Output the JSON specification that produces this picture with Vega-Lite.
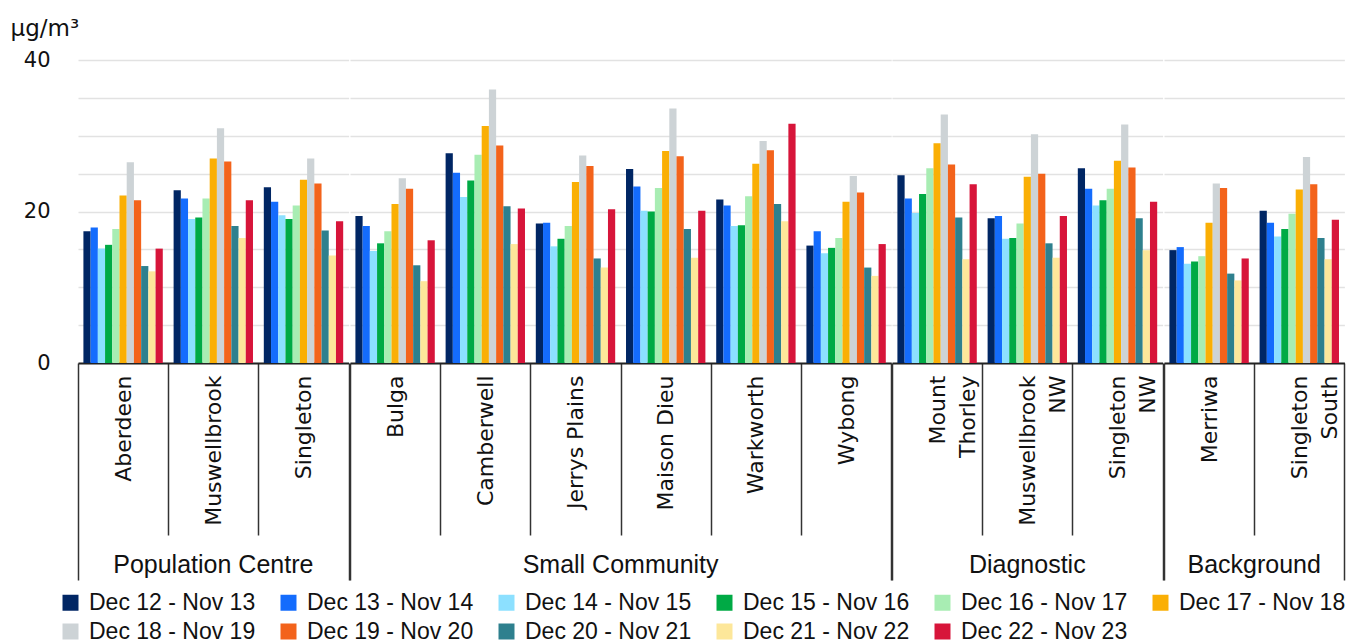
{
  "$schema": "https://vega.github.io/schema/vega-lite/v6.json",
  "padding": {"left": 10, "top": 17, "right": 5, "bottom": 0},
  "background": "white",
  "data": {"values": [
    {"group": "Population Centre", "station": "Aberdeen", "period": "Dec 12 - Nov 13", "value": 17.4},
    {"group": "Population Centre", "station": "Aberdeen", "period": "Dec 13 - Nov 14", "value": 17.9},
    {"group": "Population Centre", "station": "Aberdeen", "period": "Dec 14 - Nov 15", "value": 15.1},
    {"group": "Population Centre", "station": "Aberdeen", "period": "Dec 15 - Nov 16", "value": 15.6},
    {"group": "Population Centre", "station": "Aberdeen", "period": "Dec 16 - Nov 17", "value": 17.7},
    {"group": "Population Centre", "station": "Aberdeen", "period": "Dec 17 - Nov 18", "value": 22.1},
    {"group": "Population Centre", "station": "Aberdeen", "period": "Dec 18 - Nov 19", "value": 26.5},
    {"group": "Population Centre", "station": "Aberdeen", "period": "Dec 19 - Nov 20", "value": 21.5},
    {"group": "Population Centre", "station": "Aberdeen", "period": "Dec 20 - Nov 21", "value": 12.8},
    {"group": "Population Centre", "station": "Aberdeen", "period": "Dec 21 - Nov 22", "value": 12.1},
    {"group": "Population Centre", "station": "Aberdeen", "period": "Dec 22 - Nov 23", "value": 15.1},
    {"group": "Population Centre", "station": "Muswellbrook", "period": "Dec 12 - Nov 13", "value": 22.8},
    {"group": "Population Centre", "station": "Muswellbrook", "period": "Dec 13 - Nov 14", "value": 21.7},
    {"group": "Population Centre", "station": "Muswellbrook", "period": "Dec 14 - Nov 15", "value": 19.0},
    {"group": "Population Centre", "station": "Muswellbrook", "period": "Dec 15 - Nov 16", "value": 19.2},
    {"group": "Population Centre", "station": "Muswellbrook", "period": "Dec 16 - Nov 17", "value": 21.7},
    {"group": "Population Centre", "station": "Muswellbrook", "period": "Dec 17 - Nov 18", "value": 27.0},
    {"group": "Population Centre", "station": "Muswellbrook", "period": "Dec 18 - Nov 19", "value": 31.0},
    {"group": "Population Centre", "station": "Muswellbrook", "period": "Dec 19 - Nov 20", "value": 26.6},
    {"group": "Population Centre", "station": "Muswellbrook", "period": "Dec 20 - Nov 21", "value": 18.1},
    {"group": "Population Centre", "station": "Muswellbrook", "period": "Dec 21 - Nov 22", "value": 16.5},
    {"group": "Population Centre", "station": "Muswellbrook", "period": "Dec 22 - Nov 23", "value": 21.5},
    {"group": "Population Centre", "station": "Singleton", "period": "Dec 12 - Nov 13", "value": 23.2},
    {"group": "Population Centre", "station": "Singleton", "period": "Dec 13 - Nov 14", "value": 21.3},
    {"group": "Population Centre", "station": "Singleton", "period": "Dec 14 - Nov 15", "value": 19.5},
    {"group": "Population Centre", "station": "Singleton", "period": "Dec 15 - Nov 16", "value": 19.0},
    {"group": "Population Centre", "station": "Singleton", "period": "Dec 16 - Nov 17", "value": 20.8},
    {"group": "Population Centre", "station": "Singleton", "period": "Dec 17 - Nov 18", "value": 24.2},
    {"group": "Population Centre", "station": "Singleton", "period": "Dec 18 - Nov 19", "value": 27.0},
    {"group": "Population Centre", "station": "Singleton", "period": "Dec 19 - Nov 20", "value": 23.7},
    {"group": "Population Centre", "station": "Singleton", "period": "Dec 20 - Nov 21", "value": 17.5},
    {"group": "Population Centre", "station": "Singleton", "period": "Dec 21 - Nov 22", "value": 14.2},
    {"group": "Population Centre", "station": "Singleton", "period": "Dec 22 - Nov 23", "value": 18.7},
    {"group": "Small Community", "station": "Bulga", "period": "Dec 12 - Nov 13", "value": 19.4},
    {"group": "Small Community", "station": "Bulga", "period": "Dec 13 - Nov 14", "value": 18.1},
    {"group": "Small Community", "station": "Bulga", "period": "Dec 14 - Nov 15", "value": 14.8},
    {"group": "Small Community", "station": "Bulga", "period": "Dec 15 - Nov 16", "value": 15.8},
    {"group": "Small Community", "station": "Bulga", "period": "Dec 16 - Nov 17", "value": 17.4},
    {"group": "Small Community", "station": "Bulga", "period": "Dec 17 - Nov 18", "value": 21.0},
    {"group": "Small Community", "station": "Bulga", "period": "Dec 18 - Nov 19", "value": 24.4},
    {"group": "Small Community", "station": "Bulga", "period": "Dec 19 - Nov 20", "value": 23.0},
    {"group": "Small Community", "station": "Bulga", "period": "Dec 20 - Nov 21", "value": 12.9},
    {"group": "Small Community", "station": "Bulga", "period": "Dec 21 - Nov 22", "value": 10.8},
    {"group": "Small Community", "station": "Bulga", "period": "Dec 22 - Nov 23", "value": 16.2},
    {"group": "Small Community", "station": "Camberwell", "period": "Dec 12 - Nov 13", "value": 27.7},
    {"group": "Small Community", "station": "Camberwell", "period": "Dec 13 - Nov 14", "value": 25.1},
    {"group": "Small Community", "station": "Camberwell", "period": "Dec 14 - Nov 15", "value": 21.9},
    {"group": "Small Community", "station": "Camberwell", "period": "Dec 15 - Nov 16", "value": 24.1},
    {"group": "Small Community", "station": "Camberwell", "period": "Dec 16 - Nov 17", "value": 27.5},
    {"group": "Small Community", "station": "Camberwell", "period": "Dec 17 - Nov 18", "value": 31.3},
    {"group": "Small Community", "station": "Camberwell", "period": "Dec 18 - Nov 19", "value": 36.1},
    {"group": "Small Community", "station": "Camberwell", "period": "Dec 19 - Nov 20", "value": 28.7},
    {"group": "Small Community", "station": "Camberwell", "period": "Dec 20 - Nov 21", "value": 20.7},
    {"group": "Small Community", "station": "Camberwell", "period": "Dec 21 - Nov 22", "value": 15.7},
    {"group": "Small Community", "station": "Camberwell", "period": "Dec 22 - Nov 23", "value": 20.4},
    {"group": "Small Community", "station": "Jerrys Plains", "period": "Dec 12 - Nov 13", "value": 18.4},
    {"group": "Small Community", "station": "Jerrys Plains", "period": "Dec 13 - Nov 14", "value": 18.5},
    {"group": "Small Community", "station": "Jerrys Plains", "period": "Dec 14 - Nov 15", "value": 15.4},
    {"group": "Small Community", "station": "Jerrys Plains", "period": "Dec 15 - Nov 16", "value": 16.4},
    {"group": "Small Community", "station": "Jerrys Plains", "period": "Dec 16 - Nov 17", "value": 18.1},
    {"group": "Small Community", "station": "Jerrys Plains", "period": "Dec 17 - Nov 18", "value": 23.9},
    {"group": "Small Community", "station": "Jerrys Plains", "period": "Dec 18 - Nov 19", "value": 27.4},
    {"group": "Small Community", "station": "Jerrys Plains", "period": "Dec 19 - Nov 20", "value": 26.0},
    {"group": "Small Community", "station": "Jerrys Plains", "period": "Dec 20 - Nov 21", "value": 13.8},
    {"group": "Small Community", "station": "Jerrys Plains", "period": "Dec 21 - Nov 22", "value": 12.6},
    {"group": "Small Community", "station": "Jerrys Plains", "period": "Dec 22 - Nov 23", "value": 20.3},
    {"group": "Small Community", "station": "Maison Dieu", "period": "Dec 12 - Nov 13", "value": 25.6},
    {"group": "Small Community", "station": "Maison Dieu", "period": "Dec 13 - Nov 14", "value": 23.3},
    {"group": "Small Community", "station": "Maison Dieu", "period": "Dec 14 - Nov 15", "value": 20.1},
    {"group": "Small Community", "station": "Maison Dieu", "period": "Dec 15 - Nov 16", "value": 20.0},
    {"group": "Small Community", "station": "Maison Dieu", "period": "Dec 16 - Nov 17", "value": 23.1},
    {"group": "Small Community", "station": "Maison Dieu", "period": "Dec 17 - Nov 18", "value": 28.0},
    {"group": "Small Community", "station": "Maison Dieu", "period": "Dec 18 - Nov 19", "value": 33.6},
    {"group": "Small Community", "station": "Maison Dieu", "period": "Dec 19 - Nov 20", "value": 27.3},
    {"group": "Small Community", "station": "Maison Dieu", "period": "Dec 20 - Nov 21", "value": 17.7},
    {"group": "Small Community", "station": "Maison Dieu", "period": "Dec 21 - Nov 22", "value": 13.9},
    {"group": "Small Community", "station": "Maison Dieu", "period": "Dec 22 - Nov 23", "value": 20.1},
    {"group": "Small Community", "station": "Warkworth", "period": "Dec 12 - Nov 13", "value": 21.6},
    {"group": "Small Community", "station": "Warkworth", "period": "Dec 13 - Nov 14", "value": 20.8},
    {"group": "Small Community", "station": "Warkworth", "period": "Dec 14 - Nov 15", "value": 18.1},
    {"group": "Small Community", "station": "Warkworth", "period": "Dec 15 - Nov 16", "value": 18.2},
    {"group": "Small Community", "station": "Warkworth", "period": "Dec 16 - Nov 17", "value": 22.0},
    {"group": "Small Community", "station": "Warkworth", "period": "Dec 17 - Nov 18", "value": 26.3},
    {"group": "Small Community", "station": "Warkworth", "period": "Dec 18 - Nov 19", "value": 29.3},
    {"group": "Small Community", "station": "Warkworth", "period": "Dec 19 - Nov 20", "value": 28.1},
    {"group": "Small Community", "station": "Warkworth", "period": "Dec 20 - Nov 21", "value": 21.0},
    {"group": "Small Community", "station": "Warkworth", "period": "Dec 21 - Nov 22", "value": 18.7},
    {"group": "Small Community", "station": "Warkworth", "period": "Dec 22 - Nov 23", "value": 31.6},
    {"group": "Small Community", "station": "Wybong", "period": "Dec 12 - Nov 13", "value": 15.5},
    {"group": "Small Community", "station": "Wybong", "period": "Dec 13 - Nov 14", "value": 17.4},
    {"group": "Small Community", "station": "Wybong", "period": "Dec 14 - Nov 15", "value": 14.5},
    {"group": "Small Community", "station": "Wybong", "period": "Dec 15 - Nov 16", "value": 15.2},
    {"group": "Small Community", "station": "Wybong", "period": "Dec 16 - Nov 17", "value": 16.5},
    {"group": "Small Community", "station": "Wybong", "period": "Dec 17 - Nov 18", "value": 21.3},
    {"group": "Small Community", "station": "Wybong", "period": "Dec 18 - Nov 19", "value": 24.7},
    {"group": "Small Community", "station": "Wybong", "period": "Dec 19 - Nov 20", "value": 22.5},
    {"group": "Small Community", "station": "Wybong", "period": "Dec 20 - Nov 21", "value": 12.6},
    {"group": "Small Community", "station": "Wybong", "period": "Dec 21 - Nov 22", "value": 11.5},
    {"group": "Small Community", "station": "Wybong", "period": "Dec 22 - Nov 23", "value": 15.7},
    {"group": "Diagnostic", "station": "Mount Thorley", "period": "Dec 12 - Nov 13", "value": 24.8},
    {"group": "Diagnostic", "station": "Mount Thorley", "period": "Dec 13 - Nov 14", "value": 21.7},
    {"group": "Diagnostic", "station": "Mount Thorley", "period": "Dec 14 - Nov 15", "value": 19.8},
    {"group": "Diagnostic", "station": "Mount Thorley", "period": "Dec 15 - Nov 16", "value": 22.3},
    {"group": "Diagnostic", "station": "Mount Thorley", "period": "Dec 16 - Nov 17", "value": 25.7},
    {"group": "Diagnostic", "station": "Mount Thorley", "period": "Dec 17 - Nov 18", "value": 29.0},
    {"group": "Diagnostic", "station": "Mount Thorley", "period": "Dec 18 - Nov 19", "value": 32.8},
    {"group": "Diagnostic", "station": "Mount Thorley", "period": "Dec 19 - Nov 20", "value": 26.2},
    {"group": "Diagnostic", "station": "Mount Thorley", "period": "Dec 20 - Nov 21", "value": 19.2},
    {"group": "Diagnostic", "station": "Mount Thorley", "period": "Dec 21 - Nov 22", "value": 13.7},
    {"group": "Diagnostic", "station": "Mount Thorley", "period": "Dec 22 - Nov 23", "value": 23.6},
    {"group": "Diagnostic", "station": "Muswellbrook NW", "period": "Dec 12 - Nov 13", "value": 19.1},
    {"group": "Diagnostic", "station": "Muswellbrook NW", "period": "Dec 13 - Nov 14", "value": 19.4},
    {"group": "Diagnostic", "station": "Muswellbrook NW", "period": "Dec 14 - Nov 15", "value": 16.4},
    {"group": "Diagnostic", "station": "Muswellbrook NW", "period": "Dec 15 - Nov 16", "value": 16.5},
    {"group": "Diagnostic", "station": "Muswellbrook NW", "period": "Dec 16 - Nov 17", "value": 18.4},
    {"group": "Diagnostic", "station": "Muswellbrook NW", "period": "Dec 17 - Nov 18", "value": 24.6},
    {"group": "Diagnostic", "station": "Muswellbrook NW", "period": "Dec 18 - Nov 19", "value": 30.2},
    {"group": "Diagnostic", "station": "Muswellbrook NW", "period": "Dec 19 - Nov 20", "value": 25.0},
    {"group": "Diagnostic", "station": "Muswellbrook NW", "period": "Dec 20 - Nov 21", "value": 15.8},
    {"group": "Diagnostic", "station": "Muswellbrook NW", "period": "Dec 21 - Nov 22", "value": 13.9},
    {"group": "Diagnostic", "station": "Muswellbrook NW", "period": "Dec 22 - Nov 23", "value": 19.4},
    {"group": "Diagnostic", "station": "Singleton NW", "period": "Dec 12 - Nov 13", "value": 25.7},
    {"group": "Diagnostic", "station": "Singleton NW", "period": "Dec 13 - Nov 14", "value": 23.0},
    {"group": "Diagnostic", "station": "Singleton NW", "period": "Dec 14 - Nov 15", "value": 20.8},
    {"group": "Diagnostic", "station": "Singleton NW", "period": "Dec 15 - Nov 16", "value": 21.5},
    {"group": "Diagnostic", "station": "Singleton NW", "period": "Dec 16 - Nov 17", "value": 23.0},
    {"group": "Diagnostic", "station": "Singleton NW", "period": "Dec 17 - Nov 18", "value": 26.7},
    {"group": "Diagnostic", "station": "Singleton NW", "period": "Dec 18 - Nov 19", "value": 31.5},
    {"group": "Diagnostic", "station": "Singleton NW", "period": "Dec 19 - Nov 20", "value": 25.8},
    {"group": "Diagnostic", "station": "Singleton NW", "period": "Dec 20 - Nov 21", "value": 19.1},
    {"group": "Diagnostic", "station": "Singleton NW", "period": "Dec 21 - Nov 22", "value": 14.9},
    {"group": "Diagnostic", "station": "Singleton NW", "period": "Dec 22 - Nov 23", "value": 21.3},
    {"group": "Background", "station": "Merriwa", "period": "Dec 12 - Nov 13", "value": 14.9},
    {"group": "Background", "station": "Merriwa", "period": "Dec 13 - Nov 14", "value": 15.3},
    {"group": "Background", "station": "Merriwa", "period": "Dec 14 - Nov 15", "value": 13.1},
    {"group": "Background", "station": "Merriwa", "period": "Dec 15 - Nov 16", "value": 13.4},
    {"group": "Background", "station": "Merriwa", "period": "Dec 16 - Nov 17", "value": 14.1},
    {"group": "Background", "station": "Merriwa", "period": "Dec 17 - Nov 18", "value": 18.5},
    {"group": "Background", "station": "Merriwa", "period": "Dec 18 - Nov 19", "value": 23.7},
    {"group": "Background", "station": "Merriwa", "period": "Dec 19 - Nov 20", "value": 23.1},
    {"group": "Background", "station": "Merriwa", "period": "Dec 20 - Nov 21", "value": 11.8},
    {"group": "Background", "station": "Merriwa", "period": "Dec 21 - Nov 22", "value": 10.9},
    {"group": "Background", "station": "Merriwa", "period": "Dec 22 - Nov 23", "value": 13.8},
    {"group": "Background", "station": "Singleton South", "period": "Dec 12 - Nov 13", "value": 20.1},
    {"group": "Background", "station": "Singleton South", "period": "Dec 13 - Nov 14", "value": 18.5},
    {"group": "Background", "station": "Singleton South", "period": "Dec 14 - Nov 15", "value": 16.7},
    {"group": "Background", "station": "Singleton South", "period": "Dec 15 - Nov 16", "value": 17.7},
    {"group": "Background", "station": "Singleton South", "period": "Dec 16 - Nov 17", "value": 19.7},
    {"group": "Background", "station": "Singleton South", "period": "Dec 17 - Nov 18", "value": 22.9},
    {"group": "Background", "station": "Singleton South", "period": "Dec 18 - Nov 19", "value": 27.2},
    {"group": "Background", "station": "Singleton South", "period": "Dec 19 - Nov 20", "value": 23.6},
    {"group": "Background", "station": "Singleton South", "period": "Dec 20 - Nov 21", "value": 16.5},
    {"group": "Background", "station": "Singleton South", "period": "Dec 21 - Nov 22", "value": 13.7},
    {"group": "Background", "station": "Singleton South", "period": "Dec 22 - Nov 23", "value": 18.9}
  ]},
  "facet": {
    "column": {
      "field": "group", "type": "nominal",
      "sort": ["Population Centre", "Small Community", "Diagnostic", "Background"],
      "title": null,
      "header": {"labelOrient": "bottom", "labelFont": "Liberation Sans", "labelFontSize": 25, "labelColor": "#111111", "labelPadding": -28, "labelBaseline": "top"}
    }
  },
  "spacing": -2,
  "align": "each",
  "resolve": {"scale": {"x": "independent", "xOffset": "independent"}},
  "spec": {
    "width": {"step": 90.2, "for": "position"},
    "height": 303,
    "mark": {"type": "bar"},
    "encoding": {
      "x": {
        "field": "station", "type": "nominal",
        "sort": ["Aberdeen", "Muswellbrook", "Singleton", "Bulga", "Camberwell", "Jerrys Plains", "Maison Dieu", "Warkworth", "Wybong", "Mount Thorley", "Muswellbrook NW", "Singleton NW", "Merriwa", "Singleton South"],
        "scale": {"paddingInner": 0, "paddingOuter": 0},
        "axis": {
          "title": null,
          "labelAngle": 270, "labelAlign": "right", "labelBaseline": "middle",
          "labelFont": "DejaVu Sans", "labelColor": "#111111", "labelLineHeight": 30, "labelLimit": 0,
          "labelFontSize": {"condition": {"test": "datum.index == -1", "value": 0}, "value": 22},
          "labelExpr": "datum.label == 'Mount Thorley' ? ['Mount\u00a0', 'Thorley'] : datum.label == 'Muswellbrook NW' ? ['Muswellbrook', 'NW\u00a0\u00a0\u00a0\u00a0\u00a0\u00a0\u00a0\u00a0'] : datum.label == 'Singleton NW' ? ['Singleton', 'NW\u00a0\u00a0\u00a0\u00a0\u00a0'] : datum.label == 'Singleton South' ? ['Singleton', 'South\u00a0\u00a0\u00a0'] : datum.label",
          "tickBand": "extent", "tickColor": "#333333", "tickWidth": 1.5,
          "tickSize": {"condition": {"test": "datum.index == -1 || datum.index == 1", "value": 217}, "value": 172},
          "labelPadding": {"condition": {"test": "datum.index == -1 || datum.index == 1", "value": -205}, "value": -160},
          "domainColor": "#222222", "domainWidth": 2
        }
      },
      "xOffset": {"field": "period", "type": "nominal", "scale": {"paddingInner": 0, "paddingOuter": 0.75}},
      "y": {
        "field": "value", "type": "quantitative",
        "scale": {"domain": [0, 40], "nice": false},
        "axis": {
          "title": "µg/m³", "values": [0, 5, 10, 15, 20, 25, 30, 35, 40],
          "labelExpr": "datum.value % 20 === 0 ? datum.label : ''",
          "grid": true, "gridColor": "#e2e2e2", "gridWidth": 1.5,
          "domain": false, "ticks": false, "labelFlush": false,
          "labelFont": "DejaVu Sans", "labelFontSize": 21, "labelColor": "#111111", "labelPadding": 27,
          "titleFont": "DejaVu Sans", "titleFontSize": 23, "titleFontWeight": "normal", "titleColor": "#111111",
          "titleAngle": 0, "titleAlign": "left", "titleBaseline": "alphabetic", "titleX": -67, "titleY": -25
        }
      },
      "color": {
        "field": "period", "type": "nominal",
        "scale": {
          "domain": ["Dec 12 - Nov 13", "Dec 13 - Nov 14", "Dec 14 - Nov 15", "Dec 15 - Nov 16", "Dec 16 - Nov 17", "Dec 17 - Nov 18", "Dec 18 - Nov 19", "Dec 19 - Nov 20", "Dec 20 - Nov 21", "Dec 21 - Nov 22", "Dec 22 - Nov 23"],
          "range": ["#002664", "#146CFD", "#8CE0FF", "#00AA45", "#A8EDB3", "#FAAF05", "#CDD3D6", "#F3631B", "#2E808E", "#FDE79A", "#D7153A"]
        },
        "legend": {
          "title": null, "orient": "none", "legendX": -19, "legendY": 531, "direction": "horizontal", "columns": 6,
          "symbolType": "square", "symbolSize": 256, "symbolStrokeWidth": 0, "symbolOpacity": 1,
          "labelFont": "Liberation Sans", "labelFontSize": 23, "labelColor": "#111111", "labelOffset": 7, "labelLimit": 0,
          "columnPadding": 21, "rowPadding": 5
        }
      }
    }
  },
  "config": {"view": {"stroke": null}}
}
